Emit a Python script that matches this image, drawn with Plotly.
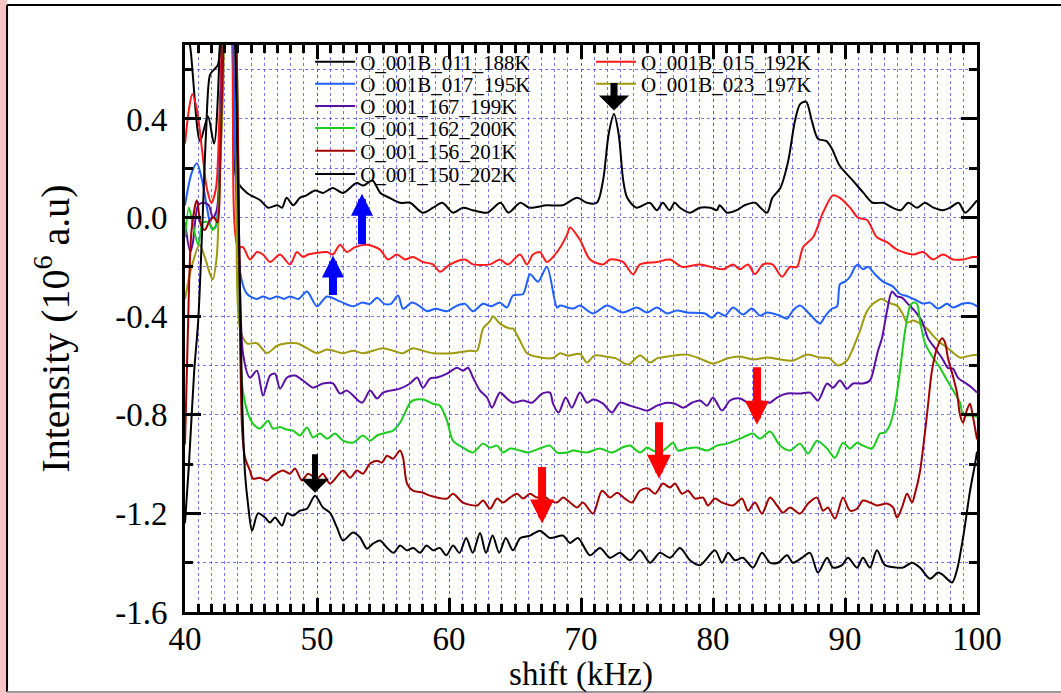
import plotly.graph_objects as go

# ---------------- data (shift in kHz, intensity in 10^6 a.u.) ----------------
s_188 = [(40.0,0.80),(40.4,0.69),(41.14,0.31),(41.74,0.41),(42.2,0.30),(42.65,0.70),(43.1,1.6),(43.6,0.70),
         (43.94,0.15),(44.7,0.10),(45.7,0.07),(46.3,0.04),(47.0,0.05),(47.35,0.04),(47.7,0.08),(48.2,0.05),
         (48.7,0.08),(49.2,0.09),(49.85,0.11),(50.45,0.10),(51.2,0.12),(51.97,0.10),(53.0,0.14),(53.5,0.13),
         (54.2,0.15),(54.8,0.10),(55.5,0.08),(56.3,0.06),(57.05,0.06),(58.0,0.02),(58.8,0.04),(59.5,0.06),
         (60.3,0.02),(61.06,0.04),(61.8,0.03),(62.9,0.02),(63.9,0.06),(64.5,0.02),(65.4,0.06),(66.1,0.04),
         (67.4,0.05),(68.6,0.05),(69.7,0.08),(70.45,0.06),(71.2,0.06),(71.67,0.15),(72.1,0.34),(72.5,0.42),
         (72.85,0.34),(73.2,0.15),(73.5,0.08),(74.2,0.04),(75.2,0.06),(75.75,0.03),(76.2,0.06),(76.7,0.03),
         (77.1,0.06),(77.5,0.04),(78.25,0.02),(79.0,0.04),(79.8,0.04),(80.3,0.03),(80.5,0.05),(81.06,0.02),
         (81.8,0.03),(82.4,0.05),(83.2,0.06),(83.6,0.04),(84.1,0.02),(84.5,0.08),(85.1,0.12),(85.7,0.23),
         (86.2,0.39),(86.6,0.46),(87.05,0.47),(87.5,0.39),(87.95,0.32),(88.6,0.31),(89.0,0.28),(89.6,0.21),
         (90.6,0.15),(91.4,0.10),(92.1,0.06),(92.9,0.06),(93.6,0.04),(94.2,0.03),(94.8,0.06),(95.45,0.04),
         (96.06,0.06),(96.7,0.04),(97.4,0.03),(97.95,0.04),(98.6,0.06),(99.1,0.02),(99.85,0.06),(100.0,0.07)]

s_192 = [(40.0,0.30),(40.3,0.44),(40.55,0.50),(40.9,0.44),(41.3,0.27),(41.65,0.12),(42.0,0.06),(42.35,0.12),
         (42.6,0.40),(42.8,0.75),(43.1,1.6),(43.6,0.7),(44.02,-0.12),(44.39,-0.12),(44.92,-0.17),(45.45,-0.14),
         (45.91,-0.15),(46.44,-0.18),(47.2,-0.15),(47.95,-0.19),(48.48,-0.14),(48.94,-0.16),(49.32,-0.15),
         (50.76,-0.14),(51.21,-0.15),(51.74,-0.11),(52.27,-0.14),(52.88,-0.12),(53.79,-0.11),(54.77,-0.13),
         (55.38,-0.17),(56.06,-0.15),(56.67,-0.17),(57.27,-0.16),(58.03,-0.18),(58.79,-0.19),(59.32,-0.22),
         (60.08,-0.19),(61.21,-0.17),(61.82,-0.19),(63.11,-0.19),(63.86,-0.17),(64.47,-0.19),(65.38,-0.15),
         (65.91,-0.19),(66.36,-0.15),(66.89,-0.14),(67.42,-0.18),(68.18,-0.14),(68.94,-0.07),(69.17,-0.04),
         (69.92,-0.09),(70.68,-0.17),(71.67,-0.19),(72.2,-0.17),(73.18,-0.18),(73.94,-0.23),(74.47,-0.19),
         (75.76,-0.18),(76.74,-0.17),(77.65,-0.20),(79.02,-0.19),(80.76,-0.21),(81.52,-0.19),(82.05,-0.21),
         (82.65,-0.19),(83.18,-0.23),(83.79,-0.19),(84.5,-0.19),(85.23,-0.24),(85.83,-0.20),(86.36,-0.20),
         (86.82,-0.12),(87.58,-0.08),(88.33,0.02),(89.09,0.09),(89.62,0.08),(90.38,0.04),(90.98,0.0),
         (91.67,-0.01),(92.42,-0.08),(93.18,-0.10),(93.94,-0.13),(95.15,-0.15),(95.91,-0.14),(96.67,-0.17),
         (97.42,-0.15),(98.18,-0.17),(98.94,-0.17),(99.7,-0.16),(100.0,-0.16)]

s_195 = [(40.0,0.05),(40.5,0.18),(40.9,0.22),(41.3,0.15),(41.7,0.03),(42.0,-0.04),(42.3,-0.04),(42.55,0.10),
         (42.8,0.45),(43.1,1.6),(43.65,0.7),(44.17,-0.22),(44.7,-0.31),(45.45,-0.33),(45.91,-0.32),(46.44,-0.33),
         (46.97,-0.32),(47.5,-0.33),(47.95,-0.32),(48.6,-0.33),(49.24,-0.30),(50.0,-0.36),(50.76,-0.32),
         (51.74,-0.34),(52.73,-0.36),(53.41,-0.345),(54.0,-0.35),(54.55,-0.325),(55.1,-0.35),(55.6,-0.35),
         (56.14,-0.316),(56.52,-0.37),(57.2,-0.345),(57.8,-0.36),(58.33,-0.38),(59.0,-0.37),(59.85,-0.38),
         (60.5,-0.36),(61.21,-0.35),(61.82,-0.38),(62.58,-0.35),(63.2,-0.36),(63.86,-0.345),(64.39,-0.365),
         (64.85,-0.316),(65.61,-0.31),(66.14,-0.23),(66.74,-0.26),(67.42,-0.20),(68.18,-0.365),(68.41,-0.357),
         (69.39,-0.369),(69.92,-0.357),(70.91,-0.389),(71.97,-0.357),(73.18,-0.385),(74.24,-0.365),(75.0,-0.385),
         (75.76,-0.365),(76.52,-0.389),(77.27,-0.377),(78.03,-0.385),(79.39,-0.389),(79.92,-0.406),(80.38,-0.385),
         (80.91,-0.398),(81.52,-0.365),(82.27,-0.393),(82.95,-0.369),(83.56,-0.398),(84.09,-0.385),(85.08,-0.398),
         (85.61,-0.41),(86.06,-0.377),(86.59,-0.357),(87.3,-0.39),(88.1,-0.43),(88.5,-0.40),(89.0,-0.37),
         (89.4,-0.36),(89.62,-0.27),(90.0,-0.26),(90.38,-0.24),(90.76,-0.20),(90.98,-0.19),(91.36,-0.21),
         (91.74,-0.20),(92.27,-0.23),(92.88,-0.26),(93.64,-0.28),(94.17,-0.31),(94.77,-0.32),(95.45,-0.337),
         (95.91,-0.349),(96.44,-0.345),(97.05,-0.369),(97.73,-0.35),(98.18,-0.365),(98.94,-0.349),(99.62,-0.349),
         (100.0,-0.36)]

s_197 = [(40.0,-0.33),(40.5,-0.20),(41.1,-0.11),(41.5,-0.16),(41.9,-0.23),(42.1,-0.25),(42.4,-0.16),
         (42.65,0.18),(42.9,0.55),(43.1,1.6),(43.9,0.7),(44.17,-0.45),(44.7,-0.51),(45.45,-0.51),(46.21,-0.55),
         (46.97,-0.52),(47.73,-0.51),(48.48,-0.51),(49.24,-0.53),(50.0,-0.55),(50.76,-0.535),(51.97,-0.55),
         (52.73,-0.54),(53.48,-0.55),(55.0,-0.53),(55.76,-0.54),(56.5,-0.55),(57.27,-0.53),(58.0,-0.54),
         (58.79,-0.55),(60.3,-0.55),(61.59,-0.54),(62.12,-0.54),(62.58,-0.45),(63.11,-0.42),(63.33,-0.40),
         (63.86,-0.43),(64.62,-0.45),(64.85,-0.45),(65.38,-0.50),(65.91,-0.55),(66.67,-0.565),(67.88,-0.57),
         (68.41,-0.55),(69.0,-0.56),(69.92,-0.553),(70.45,-0.588),(71.0,-0.56),(71.44,-0.56),(72.0,-0.565),
         (72.6,-0.57),(73.56,-0.596),(74.47,-0.56),(75.23,-0.588),(75.8,-0.57),(76.4,-0.565),(76.97,-0.56),
         (78.03,-0.556),(79.02,-0.572),(80.0,-0.592),(81.06,-0.572),(82.05,-0.564),(83.03,-0.576),(84.09,-0.568),
         (85.0,-0.575),(86.06,-0.58),(87.12,-0.556),(88.11,-0.568),(88.8,-0.57),(89.47,-0.60),(90.15,-0.58),
         (90.61,-0.53),(91.13,-0.46),(91.66,-0.38),(92.12,-0.35),(92.8,-0.33),(93.26,-0.345),(93.94,-0.357),
         (94.32,-0.385),(94.7,-0.426),(95.15,-0.418),(95.68,-0.43),(96.21,-0.45),(96.67,-0.479),(97.2,-0.507),
         (97.73,-0.527),(98.18,-0.548),(98.71,-0.568),(99.47,-0.56),(100.0,-0.556)]

s_199 = [(40.0,-0.02),(40.4,-0.14),(40.6,-0.10),(41.0,0.05),(41.4,0.06),(41.8,0.05),(42.1,0.0),(42.4,0.03),
         (42.7,0.35),(43.0,1.0),(43.8,0.7),(44.39,-0.55),(44.92,-0.649),(45.45,-0.621),(45.91,-0.722),
         (46.44,-0.641),(46.82,-0.633),(47.2,-0.694),(47.73,-0.649),(48.33,-0.641),(48.94,-0.661),(49.7,-0.69),
         (50.45,-0.673),(51.21,-0.673),(51.74,-0.714),(52.27,-0.702),(53.41,-0.751),(54.02,-0.702),(54.55,-0.734),
         (55.0,-0.71),(56.29,-0.694),(57.05,-0.673),(57.58,-0.649),(58.03,-0.69),(58.56,-0.653),(59.09,-0.649),
         (59.85,-0.633),(60.61,-0.609),(61.06,-0.621),(61.44,-0.609),(61.82,-0.649),(62.35,-0.702),(62.88,-0.73),
         (63.26,-0.771),(63.86,-0.71),(64.39,-0.734),(64.85,-0.751),(65.61,-0.742),(66.29,-0.751),(67.05,-0.714),
         (67.65,-0.71),(67.88,-0.755),(68.3,-0.791),(68.84,-0.73),(69.3,-0.771),(69.92,-0.71),(70.45,-0.751),
         (70.91,-0.738),(71.67,-0.755),(72.35,-0.791),(72.95,-0.751),(73.71,-0.763),(74.47,-0.775),(75.0,-0.783),
         (75.76,-0.763),(76.52,-0.751),(77.12,-0.755),(77.73,-0.771),(78.41,-0.751),(79.02,-0.742),(79.55,-0.763),
         (80.0,-0.73),(80.68,-0.783),(81.29,-0.742),(82.05,-0.734),(82.8,-0.755),(83.56,-0.745),(84.32,-0.751),
         (84.85,-0.73),(85.61,-0.714),(86.59,-0.714),(87.35,-0.71),(87.95,-0.742),(88.64,-0.673),(89.09,-0.69),
         (89.62,-0.661),(90.15,-0.694),(90.61,-0.673),(91.36,-0.673),(91.89,-0.661),(92.27,-0.592),(92.5,-0.54),
         (92.8,-0.49),(93.18,-0.38),(93.56,-0.30),(93.94,-0.32),(94.32,-0.325),(94.77,-0.35),(95.3,-0.38),
         (95.83,-0.42),(96.29,-0.49),(96.82,-0.53),(97.35,-0.57),(97.8,-0.61),(98.18,-0.613),(98.56,-0.65),
         (99.09,-0.67),(99.62,-0.69),(100.0,-0.71)]

s_200 = [(40.0,-0.08),(40.3,0.04),(40.6,-0.03),(41.0,-0.11),(41.35,-0.02),(41.8,-0.02),(42.1,-0.05),
         (42.4,-0.02),(42.7,0.3),(43.0,0.9),(43.2,1.6),(43.9,0.7),(44.32,-0.673),(44.7,-0.783),(45.15,-0.836),
         (45.68,-0.856),(46.29,-0.824),(46.67,-0.856),(47.2,-0.85),(47.7,-0.86),(48.18,-0.864),(48.71,-0.884),
         (49.24,-0.852),(49.7,-0.892),(50.23,-0.876),(50.76,-0.897),(51.36,-0.876),(51.97,-0.905),(52.73,-0.913),
         (53.48,-0.884),(54.02,-0.905),(54.55,-0.884),(55.3,-0.872),(55.76,-0.864),(56.29,-0.832),(57.05,-0.751),
         (57.27,-0.742),(58.03,-0.738),(58.79,-0.755),(59.32,-0.763),(59.85,-0.824),(60.3,-0.905),(61.06,-0.933),
         (61.82,-0.953),(62.58,-0.917),(63.11,-0.933),(63.64,-0.925),(64.09,-0.953),(64.62,-0.937),(65.38,-0.945),
         (65.98,-0.953),(67.05,-0.933),(67.65,-0.925),(68.18,-0.953),(68.94,-0.953),(69.39,-0.945),(70.45,-0.953),
         (71.44,-0.937),(72.35,-0.953),(73.11,-0.933),(73.71,-0.925),(74.47,-0.953),(75.0,-0.933),(75.45,-0.945),
         (75.98,-0.953),(76.52,-0.933),(76.97,-0.913),(77.35,-0.945),(78.03,-0.937),(78.79,-0.933),(79.55,-0.945),
         (80.3,-0.925),(81.06,-0.917),(82.05,-0.897),(82.58,-0.884),(83.03,-0.876),(83.56,-0.897),(84.32,-0.868),
         (85.08,-0.925),(85.83,-0.945),(86.59,-0.917),(87.2,-0.957),(87.88,-0.905),(88.64,-0.937),(89.24,-0.974),
         (89.85,-0.913),(90.38,-0.937),(90.91,-0.913),(91.36,-0.925),(92.05,-0.937),(92.65,-0.876),(93.03,-0.872),
         (93.41,-0.84),(93.79,-0.76),(94.17,-0.62),(94.55,-0.46),(94.92,-0.36),(95.15,-0.345),(95.45,-0.35),
         (95.68,-0.418),(96.06,-0.51),(96.44,-0.548),(96.82,-0.58),(97.2,-0.609),(97.73,-0.66),(98.18,-0.70),
         (98.71,-0.75),(98.94,-0.80),(99.32,-0.803),(99.7,-0.803),(100.0,-0.81)]

s_201 = [(40.0,-0.92),(40.2,-0.5),(40.5,-0.05),(40.9,0.07),(41.2,-0.03),(41.5,-0.05),(41.9,-0.01),(42.2,0.0),
         (42.45,-0.02),(42.7,0.3),(43.0,0.9),(43.2,1.6),(43.9,0.7),(44.32,-0.852),(44.55,-0.974),(44.92,-1.026),
         (45.15,-1.059),(45.68,-1.055),(46.21,-1.067),(46.67,-1.047),(47.42,-1.026),(47.95,-1.039),(48.33,-1.018),
         (48.86,-1.067),(49.32,-1.039),(50.0,-1.059),(50.45,-1.039),(50.98,-1.079),(51.97,-1.026),(52.5,-1.055),
         (53.03,-1.026),(53.48,-1.039),(54.02,-0.998),(54.55,-0.986),(54.92,-0.994),(55.3,-0.966),(55.76,-0.978),
         (56.29,-0.945),(56.52,-0.974),(56.82,-1.079),(57.27,-1.108),(58.03,-1.116),(58.56,-1.128),(59.85,-1.14),
         (60.3,-1.12),(61.06,-1.156),(62.12,-1.168),(62.58,-1.148),(63.11,-1.181),(63.64,-1.14),(64.09,-1.156),
         (64.62,-1.136),(65.15,-1.12),(65.61,-1.14),(66.14,-1.12),(66.67,-1.136),(67.12,-1.128),(67.65,-1.148),
         (68.18,-1.156),(68.64,-1.136),(69.17,-1.156),(69.7,-1.176),(70.15,-1.156),(70.91,-1.201),(71.59,-1.108),
         (72.2,-1.136),(72.73,-1.116),(73.33,-1.14),(73.86,-1.156),(74.47,-1.108),(75.08,-1.099),(75.61,-1.12),
         (76.21,-1.079),(76.74,-1.095),(77.12,-1.079),(77.65,-1.12),(78.11,-1.108),(78.64,-1.14),(79.24,-1.136),
         (79.62,-1.168),(80.15,-1.14),(80.68,-1.156),(81.52,-1.168),(82.2,-1.14),(82.65,-1.189),(83.18,-1.156),
         (83.71,-1.201),(84.32,-1.136),(84.85,-1.168),(85.3,-1.197),(85.83,-1.176),(86.59,-1.201),(87.2,-1.16),
         (87.88,-1.136),(88.33,-1.189),(88.71,-1.176),(89.24,-1.221),(89.85,-1.136),(90.38,-1.189),(90.91,-1.181),
         (91.36,-1.148),(91.89,-1.156),(92.42,-1.168),(93.18,-1.16),(93.64,-1.176),(93.94,-1.217),(94.32,-1.176),
         (94.7,-1.12),(95.08,-1.156),(95.3,-1.12),(95.68,-1.03),(96.21,-0.80),(96.59,-0.62),(96.97,-0.53),
         (97.35,-0.49),(97.58,-0.507),(97.8,-0.57),(98.11,-0.63),(98.48,-0.71),(98.71,-0.80),(98.94,-0.832),
         (99.24,-0.78),(99.47,-0.755),(99.7,-0.81),(100.0,-0.90)]

s_202 = [(40.0,-1.24),(40.3,-1.0),(40.7,-0.62),(41.0,-0.42),(41.3,-0.05),(41.6,0.35),(41.9,0.58),(42.2,0.60),
         (42.5,0.62),(42.75,0.95),(43.1,1.6),(43.8,0.7),(44.32,-0.73),(44.55,-1.04),(44.77,-1.16),(45.08,-1.27),
         (45.53,-1.20),(46.06,-1.217),(46.44,-1.237),(46.82,-1.217),(47.35,-1.249),(47.73,-1.20),(48.18,-1.209),
         (48.71,-1.189),(49.24,-1.181),(49.85,-1.128),(50.45,-1.176),(50.98,-1.197),(51.52,-1.258),(51.97,-1.31),
         (52.73,-1.278),(53.26,-1.298),(53.79,-1.343),(54.24,-1.323),(54.77,-1.31),(55.3,-1.339),(55.8,-1.36),
         (56.3,-1.33),(56.8,-1.35),(57.3,-1.34),(57.8,-1.36),(58.3,-1.33),(58.8,-1.35),(59.3,-1.34),(59.8,-1.37),
         (60.3,-1.33),(60.8,-1.36),(61.3,-1.30),(61.8,-1.36),(62.35,-1.28),(62.8,-1.36),(63.3,-1.29),(63.8,-1.36),
         (64.3,-1.30),(64.85,-1.35),(65.4,-1.30),(66.14,-1.29),(66.89,-1.27),(67.65,-1.30),(68.64,-1.29),
         (69.17,-1.32),(69.77,-1.30),(70.68,-1.37),(71.44,-1.34),(72.2,-1.38),(72.95,-1.36),(73.71,-1.39),
         (74.47,-1.35),(75.23,-1.40),(75.98,-1.36),(76.74,-1.38),(77.5,-1.34),(78.26,-1.39),(79.02,-1.41),
         (80.15,-1.35),(80.68,-1.40),(81.14,-1.36),(81.67,-1.39),(82.27,-1.38),(83.03,-1.42),(83.71,-1.36),
         (84.32,-1.40),(84.92,-1.40),(85.61,-1.37),(86.06,-1.40),(86.74,-1.38),(87.35,-1.36),(87.95,-1.44),
         (88.64,-1.38),(89.09,-1.42),(89.77,-1.41),(90.23,-1.38),(90.91,-1.42),(91.36,-1.38),(91.89,-1.42),
         (92.42,-1.35),(93.03,-1.41),(93.94,-1.42),(94.39,-1.42),(95.08,-1.40),(95.68,-1.42),(96.44,-1.465),
         (97.05,-1.44),(97.42,-1.45),(98.11,-1.48),(98.48,-1.43),(98.94,-1.30),(99.47,-1.11),(99.85,-1.0),
         (100.0,-0.95)]

series_names = ["O_001B_011_188K", "O_001B_015_192K", "O_001B_017_195K", "O_001B_023_197K",
                "O_001_167_199K", "O_001_162_200K", "O_001_156_201K", "O_001_150_202K"]
series_data = [s_188, s_192, s_195, s_197, s_199, s_200, s_201, s_202]
series_colors = ["#000000", "#ff1a1a", "#1f5fff", "#9e9a0c", "#5a0fa3", "#1ccc1c", "#a30000", "#000000"]
# legend slot of each series: (column, row)
legend_slots = [(0, 0), (1, 0), (0, 1), (1, 1), (0, 2), (0, 3), (0, 4), (0, 5)]

x_ticks = [40, 50, 60, 70, 80, 90, 100]
y_ticks = [-1.6, -1.2, -0.8, -0.4, 0.0, 0.4]
y_tick_text = ["-1.6", "-1.2", "-0.8", "-0.4", "0.0", "0.4"]

# arrows: (x, tip y, tail offset px, color, shaft width, head style, head size)
arrows = [(72.5, 0.434, -29, "#000000", 7, 1, 0.72),
          (49.85, -1.116, -40, "#000000", 6, 1, 0.78),
          (53.41, 0.097, 52, "#0000ff", 8, 2, 0.55),
          (51.21, -0.154, 41, "#0000ff", 8, 2, 0.55),
          (67.05, -1.241, -58, "#ff0000", 8, 2, 0.6),
          (75.91, -1.059, -58, "#ff0000", 8, 2, 0.6),
          (83.33, -0.840, -59, "#ff0000", 8, 2, 0.6)]

FONT = "Liberation Serif"

fig = go.Figure()
legend_layout = {}
for i, (name, data, col, slot) in enumerate(zip(series_names, series_data, series_colors, legend_slots)):
    xs = [p[0] for p in data]
    ys = [p[1] for p in data]
    lg = "legend" if i == 0 else "legend%d" % (i + 1)
    fig.add_trace(go.Scatter(x=xs, y=ys, mode="lines", name=name, legend=lg, showlegend=True,
                             line=dict(color=col, width=2, shape="spline", smoothing=0.8)))
    col_x = [0.158, 0.5126][slot[0]]
    row_y = [0.970, 0.931, 0.892, 0.853, 0.813, 0.772][slot[1]]
    legend_layout[lg] = dict(x=col_x, xanchor="left", y=row_y, yanchor="middle", visible=True,
                             bgcolor="rgba(0,0,0,0)", borderwidth=0, itemwidth=40,
                             font=dict(family=FONT, size=21, color="black"))

for ax_x, ax_y, off, col, w, head, size in arrows:
    fig.add_annotation(x=ax_x, y=ax_y, xref="x", yref="y", text="", showarrow=True,
                       ax=0, ay=off, arrowcolor=col, arrowwidth=w, arrowhead=head,
                       arrowsize=size, standoff=0)

grid_col = "rgba(70,70,255,0.75)"
fig.update_xaxes(range=[40, 100], tickmode="array", tickvals=x_ticks, automargin=False,
                 ticks="inside", ticklen=14, tickwidth=3, tickcolor="black",
                 showline=True, linewidth=3, linecolor="black", mirror="allticks",
                 showgrid=True, gridcolor=grid_col, griddash="dot", gridwidth=1,
                 zeroline=False, ticklabelstandoff=-5,
                 tickfont=dict(family=FONT, size=33, color="black"),
                 minor=dict(tickvals=[v for v in range(41, 100)], ticks="inside", ticklen=8, tickwidth=3,
                            tickcolor="black", showgrid=True, gridcolor=grid_col, griddash="dot", gridwidth=1),
                 title=dict(text="shift (kHz)", font=dict(family=FONT, size=33, color="black"), standoff=0))
fig.update_yaxes(range=[-1.6, 0.7], tickmode="array", tickvals=y_ticks, ticktext=y_tick_text, automargin=False,
                 ticks="inside", ticklen=16, tickwidth=3, tickcolor="black",
                 showline=True, linewidth=3, linecolor="black", mirror="allticks",
                 showgrid=True, gridcolor=grid_col, griddash="dot", gridwidth=1,
                 zeroline=False, ticklabelstandoff=8,
                 tickfont=dict(family=FONT, size=33, color="black"),
                 minor=dict(tickvals=[-1.4, -1.0, -0.6, -0.2, 0.2, 0.6], ticks="inside", ticklen=8, tickwidth=3,
                            tickcolor="black", showgrid=True, gridcolor=grid_col, griddash="dot", gridwidth=1),
                 title=dict(text="Intensity (10<sup>6</sup> a.u)", font=dict(family=FONT, size=40, color="black"),
                            standoff=34))

# figure frame (border + left pink edge)
fig.add_shape(type="rect", xref="paper", yref="paper", x0=-0.2336, x1=-0.2247, y0=-0.15, y1=1.08,
              line=dict(width=0), fillcolor="#f6c4c4", layer="below")
fig.add_shape(type="line", xref="paper", yref="paper", x0=-0.2247, x1=-0.2247, y0=-0.141, y1=1.0705,
              line=dict(color="black", width=2))
fig.add_shape(type="line", xref="paper", yref="paper", x0=-0.2247, x1=1.2, y0=1.0705, y1=1.0705,
              line=dict(color="black", width=2))
fig.add_shape(type="line", xref="paper", yref="paper", x0=-0.2247, x1=1.2, y0=-0.141, y1=-0.141,
              line=dict(color="#999999", width=2))

fig.update_layout(
    width=1061, height=693,
    margin=dict(l=185, r=84, t=45, b=81),
    paper_bgcolor="white", plot_bgcolor="white",
    font=dict(family=FONT, color="black"),
    showlegend=True,
    **legend_layout,
)

fig.write_html("out.html", config={"displayModeBar": False},
               post_script="document.body.style.margin='0px';")
